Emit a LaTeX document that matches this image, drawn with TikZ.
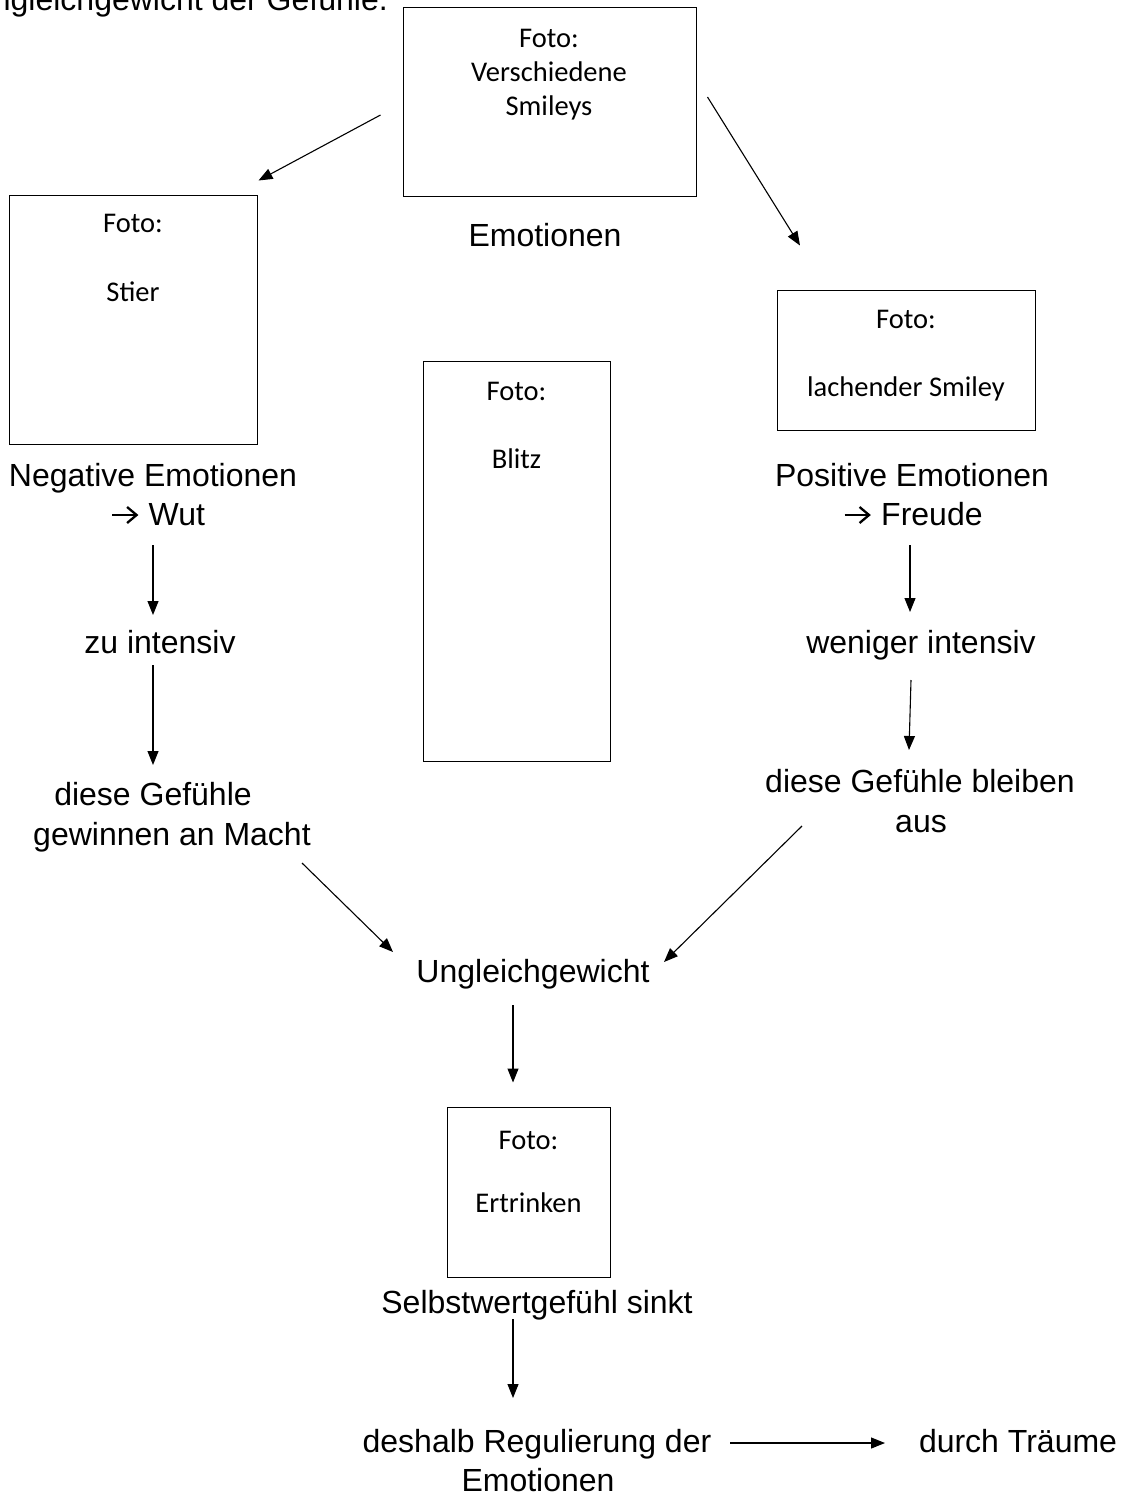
\documentclass[tikz,border=0pt]{standalone}
\usepackage{fontspec}
\setmainfont{Liberation Sans}
\newfontfamily\calibrifont{Carlito}
\usetikzlibrary{arrows.meta,calc}
\newcommand{\warr}{\tikz[x=1pt,y=1pt,baseline=0pt]{\draw[line width=2.3pt] (0,10.5)--(23.5,10.5); \draw[line width=2.3pt, line join=miter] (15,18.5)--(24.5,10.5)--(15,2.5);}\hspace{11pt}}
\begin{document}
\begin{tikzpicture}[x=1pt,y=-1pt,
  lbl/.style={inner sep=0pt, text height=23pt, text depth=0pt, font=\fontsize{32}{38}\selectfont},
  ftxt/.style={inner sep=0pt, text height=18.4pt, text depth=0pt, font=\calibrifont\fontsize{28.5}{34}\selectfont},
  fotobox/.style={draw, line width=1pt, inner sep=0pt},
  arr/.style={line width=1.1pt, -{Triangle[length=14pt,width=11pt]}}]
\useasboundingbox (0,0) rectangle (1138,1497);

% header (cut off at the top edge, as in the reference)
\node[lbl, anchor=south east] (hdr) at (388,11) {Ungleichgewicht der Gefühle.};

% photo boxes
\node[fotobox, minimum width=293pt, minimum height=189pt] (boxTop) at (549.5,101.5) {};
\node[ftxt] (tF) at (549,38) {Foto:};
\node[ftxt] (tV) at (549,72) {Verschiedene};
\node[ftxt] (tS) at (549,106) {Smileys};

\node[fotobox, minimum width=248pt, minimum height=249pt] (boxStier) at (133,319.5) {};
\node[ftxt] (sF) at (133,223) {Foto:};
\node[ftxt] (sS) at (133,292) {Stier};

\node[fotobox, minimum width=187pt, minimum height=400pt] (boxBlitz) at (516.5,561) {};
\node[ftxt] (bF) at (516.5,391) {Foto:};
\node[ftxt] (bB) at (516.5,459) {Blitz};

\node[fotobox, minimum width=258pt, minimum height=140pt] (boxSmile) at (906,360) {};
\node[ftxt] (lF) at (906,319) {Foto:};
\node[ftxt] (lS) at (906,387) {lachender Smiley};

\node[fotobox, minimum width=163pt, minimum height=170pt] (boxErtr) at (528.5,1192) {};
\node[ftxt] (eF) at (528.5,1140) {Foto:};
\node[ftxt] (eE) at (528.5,1203) {Ertrinken};

% labels
\node[lbl] (emo) at (545,235) {Emotionen};
\node[lbl] (neg1) at (153,475) {Negative Emotionen};
\node[lbl] (neg2) at (158,514) {\warr Wut};
\node[lbl] (int1) at (160,642) {zu intensiv};
\node[lbl] (gf1) at (153,794) {diese Gefühle};
\node[lbl] (gf2) at (172,834) {gewinnen an Macht};
\node[lbl] (pos1) at (912,475) {Positive Emotionen};
\node[lbl] (pos2) at (913,514) {\warr Freude};
\node[lbl] (int2) at (921,642) {weniger intensiv};
\node[lbl] (bl1) at (920,781) {diese Gefühle bleiben};
\node[lbl] (bl2) at (921,821) {aus};
\node[lbl] (ung) at (533,971) {Ungleichgewicht};
\node[lbl] (selbst) at (537,1302) {Selbstwertgefühl sinkt};
\node[lbl] (reg1) at (537,1441) {deshalb Regulierung der};
\node[lbl] (reg2) at (538,1480) {Emotionen};
\node[lbl] (traum) at (1018,1441) {durch Träume};

% connectors
\draw[arr] ($(boxTop.west)+(-22,13.5)$) -- ($(boxStier.north east)+(1,-14)$);
\draw[arr] ($(boxTop.east)+(11,-4.5)$) -- ($(boxSmile.north)+(-106,-44)$);
\draw[arr] ($(neg2)+(-5,31)$) -- ($(int1)+(-7,-27)$);
\draw[arr] ($(int1)+(-7,23)$) -- ($(gf1)+(0,-29)$);
\draw[arr] ($(gf2)+(130,29)$) -- ($(ung)+(-140,-19)$);
\draw[arr] ($(pos2)+(-3,31)$) -- ($(int2)+(-11,-30)$);
\draw[arr] ($(int2)+(-10,38)$) -- ($(bl1)+(-11,-31)$);
\draw[arr] ($(bl2)+(-119,5)$) -- ($(ung)+(131,-9)$);
\draw[arr] ($(ung)+(-20,34)$) -- ($(boxErtr.north)+(-15.5,-24)$);
\draw[arr] ($(selbst)+(-24,17)$) -- ($(reg1)+(-24,-43)$);
\draw[arr] ($(reg1)+(193,2)$) -- ($(traum)+(-133,2)$);
\end{tikzpicture}
\end{document}
